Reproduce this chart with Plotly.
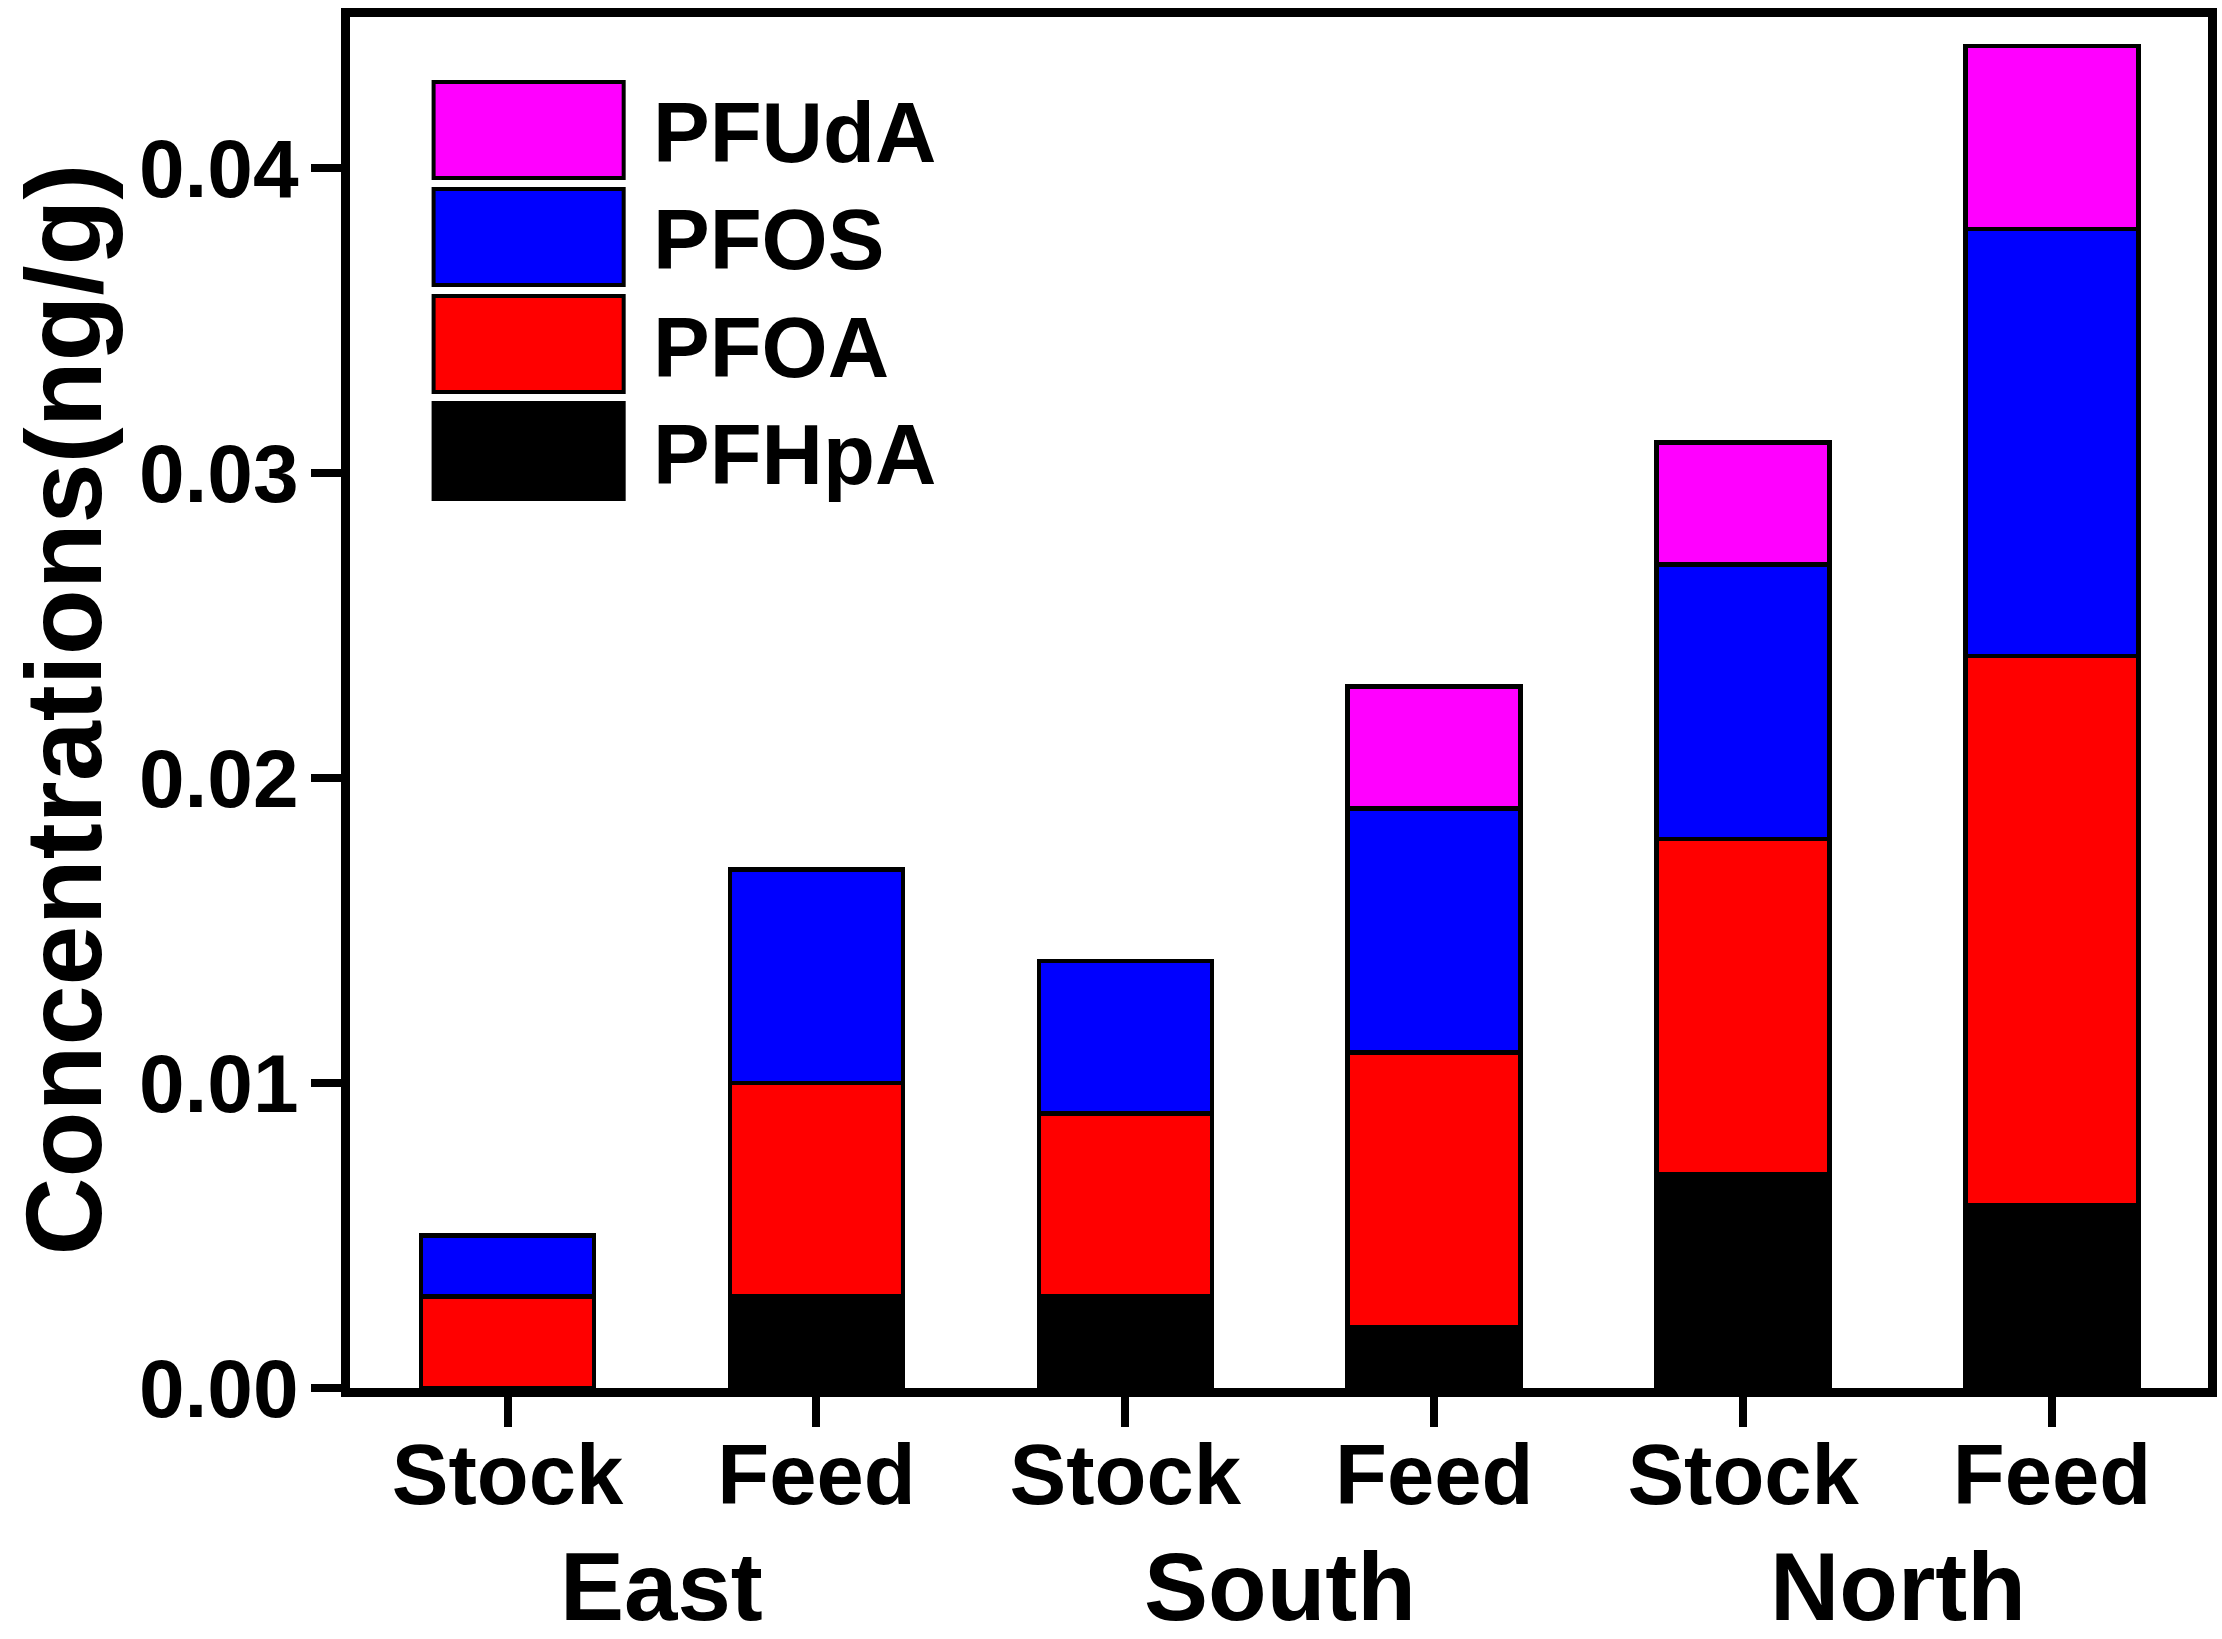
import plotly.graph_objects as go

# data (ng/g)
regions = ["East", "South", "North"]
sample_types = ["Stock", "Feed", "Stock", "Feed", "Stock", "Feed"]
pfhpa = [0.000, 0.003, 0.003, 0.002, 0.007, 0.006]
pfoa = [0.003, 0.007, 0.006, 0.009, 0.011, 0.018]
pfos = [0.002, 0.007, 0.005, 0.008, 0.009, 0.014]
pfuda = [0.000, 0.000, 0.000, 0.004, 0.004, 0.006]
y_ticks = [0.00, 0.01, 0.02, 0.03, 0.04]

W, H = 2222, 1639
M_L, M_R, M_T, M_B = 350, 5, 17, 251
FONT = "Liberation Sans, Arial, sans-serif"


def px_x(p):
    return (p - M_L) / (W - M_L - M_R)


def px_y(p):
    return (H - M_B - p) / (H - M_T - M_B)


series = [
    ("PFHpA", pfhpa, "#000000"),
    ("PFOA", pfoa, "#FF0000"),
    ("PFOS", pfos, "#0000FF"),
    ("PFUdA", pfuda, "#FF00FF"),
]

pos = list(range(len(sample_types)))

fig = go.Figure()
for name, vals, col in series:
    fig.add_trace(go.Bar(
        x=pos, y=vals, name=name, width=0.56,
        marker=dict(color=col, line=dict(color="black", width=4.5)),
        showlegend=False))

# hand-drawn legend (big boxes like the original)
shapes, annos = [], []
box_top = 82
for name, vals, col in reversed(series):
    y0, y1 = box_top, box_top + 96
    shapes.append(dict(type="rect", xref="paper", yref="paper",
                       x0=px_x(434), x1=px_x(625), y0=px_y(y1), y1=px_y(y0),
                       fillcolor=col, line=dict(color="black", width=4)))
    annos.append(dict(text=name, xref="paper", yref="paper",
                      x=px_x(652), y=px_y((y0 + y1) / 2 + 3),
                      xanchor="left", yanchor="middle", showarrow=False,
                      font=dict(size=85, family=FONT, color="black", weight="bold")))
    box_top += 107

# region labels under the pairs
for i, reg in enumerate(regions):
    annos.append(dict(text=reg, xref="x", yref="paper",
                      x=2 * i + 0.5, y=px_y(1586), xanchor="center", yanchor="middle",
                      showarrow=False,
                      font=dict(size=96, family=FONT, color="black", weight="bold")))

# y title
annos.append(dict(text="Concentrations(ng/g)", xref="paper", yref="paper",
                  x=px_x(62), y=px_y(709), xanchor="center", yanchor="middle",
                  textangle=-90, showarrow=False,
                  font=dict(size=108, family=FONT, color="black", weight="bold")))

fig.update_layout(
    width=W, height=H,
    margin=dict(l=M_L, r=M_R, t=M_T, b=M_B, pad=0),
    paper_bgcolor="white", plot_bgcolor="white",
    barmode="stack",
    font=dict(family=FONT, color="black", weight="bold"),
    shapes=shapes, annotations=annos)

fig.update_xaxes(
    range=[-0.51, 5.505], tickvals=pos, ticktext=sample_types,
    showline=True, linewidth=9, linecolor="black", mirror=True,
    ticks="outside", ticklen=30, tickwidth=8, tickcolor="black",
    tickfont=dict(size=85, family=FONT, weight="bold"),
    ticklabelstandoff=-25,
    showgrid=False, zeroline=False)

fig.update_yaxes(
    range=[0, 0.04495], tickvals=y_ticks, tickformat=".2f",
    showline=True, linewidth=9, linecolor="black", mirror=True,
    ticks="outside", ticklen=30, tickwidth=8, tickcolor="black",
    tickfont=dict(size=82, family=FONT, weight="bold"),
    ticklabelstandoff=-4,
    showgrid=False, zeroline=False)

# drop the default page margin so the figure fills the window exactly
fig.write_html("out.html", config={"displayModeBar": False},
               post_script="document.body.style.margin='0px';")
